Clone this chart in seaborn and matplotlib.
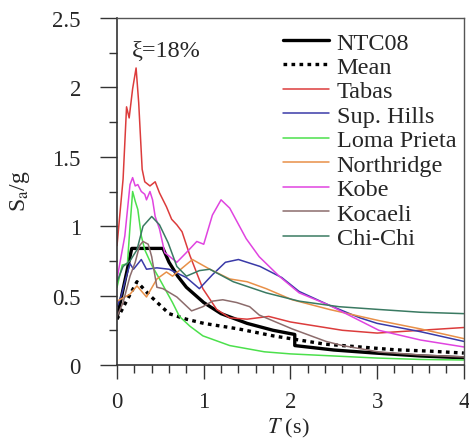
import matplotlib
matplotlib.use("Agg")
import matplotlib.pyplot as plt
import seaborn as sns
import numpy as np
from matplotlib.ticker import MultipleLocator

# ---- data ----
ntc_T = [0, 0.17, 0.53, 0.6, 0.7, 0.8, 1.0, 1.2, 1.5, 1.8, 2.05, 2.05, 2.5, 3.0, 3.5, 4.0]
ntc_S = [0.34, 0.84, 0.84, 0.74, 0.64, 0.56, 0.45, 0.37, 0.30, 0.25, 0.22, 0.14, 0.108, 0.085, 0.065, 0.052]

mean_T = [0, 0.1, 0.23, 0.38, 0.6, 0.8, 1.0, 1.4, 1.8, 2.0, 2.4, 2.8, 3.2, 3.6, 4.0]
mean_S = [0.33, 0.45, 0.60, 0.50, 0.37, 0.33, 0.30, 0.26, 0.21, 0.19, 0.15, 0.13, 0.11, 0.10, 0.086]

tabas_T = [0, 0.07, 0.11, 0.14, 0.18, 0.22, 0.25, 0.29, 0.32, 0.38, 0.44, 0.49, 0.57, 0.63, 0.69, 0.75,
           0.84, 0.99, 1.15, 1.3, 1.5, 1.75, 2.0, 2.3, 2.6, 3.0, 3.5, 4.0]
tabas_S = [0.86, 1.34, 1.86, 1.78, 1.99, 2.14, 1.89, 1.41, 1.32, 1.29, 1.32, 1.24, 1.14, 1.05, 1.01, 0.96,
           0.79, 0.55, 0.40, 0.34, 0.33, 0.35, 0.31, 0.28, 0.25, 0.23, 0.25, 0.27]

hills_T = [0, 0.05, 0.1, 0.15, 0.19, 0.28, 0.34, 0.46, 0.6, 0.8, 0.95, 1.1, 1.25, 1.4, 1.65, 1.9, 2.1,
           2.45, 2.8, 3.0, 3.5, 4.0]
hills_S = [0.42, 0.50, 0.62, 0.73, 0.69, 0.76, 0.69, 0.70, 0.69, 0.63, 0.55, 0.65, 0.74, 0.76, 0.71, 0.63,
           0.53, 0.43, 0.34, 0.30, 0.24, 0.17]

loma_T = [0, 0.06, 0.12, 0.15, 0.18, 0.21, 0.24, 0.28, 0.32, 0.4, 0.49, 0.64, 0.72, 0.84, 0.99, 1.3,
          1.7, 2.0, 2.5, 3.0, 3.5, 4.0]
loma_S = [0.56, 0.72, 0.73, 1.0, 1.25, 1.18, 1.12, 0.93, 0.83, 0.72, 0.62, 0.45, 0.35, 0.28, 0.21, 0.14,
          0.095, 0.08, 0.065, 0.05, 0.04, 0.036]

north_T = [0, 0.15, 0.23, 0.34, 0.46, 0.57, 0.64, 0.87, 1.07, 1.3, 1.5, 1.72, 2.02, 2.45, 3.02, 3.5, 4.0]
north_S = [0.46, 0.51, 0.57, 0.49, 0.62, 0.67, 0.64, 0.76, 0.69, 0.62, 0.60, 0.55, 0.47, 0.40, 0.32, 0.26, 0.19]

kobe_T = [0, 0.09, 0.15, 0.18, 0.21, 0.24, 0.28, 0.32, 0.34, 0.38, 0.41, 0.44, 0.49, 0.55, 0.69, 0.8,
          0.92, 1.0, 1.1, 1.2, 1.3, 1.49, 1.64, 1.87, 2.1, 2.45, 3.02, 3.5, 4.0]
kobe_S = [0.62, 0.93, 1.30, 1.35, 1.29, 1.30, 1.25, 1.23, 1.19, 1.25, 1.19, 1.07, 0.98, 0.81, 0.74, 0.81,
          0.89, 0.87, 1.08, 1.19, 1.13, 0.91, 0.78, 0.64, 0.52, 0.43, 0.25, 0.18, 0.13]

koca_T = [0, 0.07, 0.15, 0.21, 0.26, 0.3, 0.36, 0.4, 0.46, 0.53, 0.69, 0.86, 0.99, 1.1, 1.22, 1.38,
          1.53, 1.64, 2.02, 2.41, 2.6, 3.02, 3.5, 4.0]
koca_S = [0.35, 0.45, 0.64, 0.74, 0.86, 0.89, 0.87, 0.78, 0.56, 0.55, 0.49, 0.39, 0.42, 0.46, 0.47, 0.45,
          0.42, 0.36, 0.26, 0.17, 0.14, 0.094, 0.072, 0.058]

chi_T = [0, 0.07, 0.15, 0.23, 0.3, 0.4, 0.49, 0.59, 0.69, 0.8, 0.95, 1.07, 1.22, 1.34, 1.72, 2.1,
         2.56, 3.02, 3.5, 4.0]
chi_S = [0.60, 0.71, 0.75, 0.83, 1.0, 1.07, 1.01, 0.88, 0.71, 0.64, 0.68, 0.69, 0.64, 0.60, 0.52, 0.46,
         0.42, 0.40, 0.38, 0.37]

records = [
    ("Tabas", tabas_T, tabas_S, "#dc3c3c"),
    ("Sup. Hills", hills_T, hills_S, "#3a3aa8"),
    ("Loma Prieta", loma_T, loma_S, "#4ce04c"),
    ("Northridge", north_T, north_S, "#e89048"),
    ("Kobe", kobe_T, kobe_S, "#e044e0"),
    ("Kocaeli", koca_T, koca_S, "#8c6c6c"),
    ("Chi-Chi", chi_T, chi_S, "#3a7a62"),
]

sns.set_style("ticks")
plt.rcParams["font.family"] = ["Liberation Serif", "DejaVu Serif"]
plt.rcParams["mathtext.fontset"] = "stix"

fig = plt.figure(figsize=(4.69, 4.39), dpi=100)
ax = fig.add_axes([0.2495, 0.1663, 0.7395, 0.7904])

sns.lineplot(x=ntc_T, y=ntc_S, ax=ax, color="black", lw=2.4, label="NTC08",
             estimator=None, sort=False)
sns.lineplot(x=mean_T, y=mean_S, ax=ax, color="black", lw=2.4, label="Mean",
             estimator=None, sort=False, linestyle=(0, (1.1, 1.3)))
for name, T, S, c in records:
    sns.lineplot(x=T, y=S, ax=ax, color=c, lw=1.1, label=name, estimator=None, sort=False)

ax.set_xlim(0, 4)
ax.set_ylim(0, 2.5)
ax.xaxis.set_major_locator(MultipleLocator(1))
ax.xaxis.set_minor_locator(MultipleLocator(0.2))
ax.yaxis.set_major_locator(MultipleLocator(0.5))
ax.yaxis.set_minor_locator(MultipleLocator(0.25))
ax.xaxis.set_major_formatter(plt.FuncFormatter(lambda v, p: f"{v:g}"))
ax.yaxis.set_major_formatter(plt.FuncFormatter(lambda v, p: f"{v:g}"))
ax.tick_params(axis="y", which="major", direction="out", length=12, width=1.0,
               labelsize=16.5, color="#333333", pad=14)
ax.tick_params(axis="x", which="major", direction="out", length=10, width=1.0,
               labelsize=16.5, color="#333333", pad=9)
ax.tick_params(axis="both", which="minor", direction="out", length=6, width=1.0, color="#333333")
ax.tick_params(top=False, right=False)
for s in ["top", "right"]:
    ax.spines[s].set_color("#555555")
    ax.spines[s].set_linewidth(1.0)
for s in ["left", "bottom"]:
    ax.spines[s].set_color("#333333")
    ax.spines[s].set_linewidth(1.2)

ax.set_xlabel(r"$T$ (s)", fontsize=16)
ax.set_ylabel(r"S$_{\mathrm{a}}$/g", fontsize=17)
ax.xaxis.set_label_coords(0.493, -0.148)
ax.yaxis.set_label_coords(-0.245, 0.505)
ax.text(0.17, 2.27, "ξ=18%", fontsize=17.5, ha="left", va="center")

leg = ax.legend(loc="upper right", frameon=False, fontsize=17.5, handlelength=1.9,
                labelspacing=0.1, handletextpad=0.3, borderaxespad=0.0, borderpad=0.1,
                bbox_to_anchor=(0.985, 0.968))

fig.savefig("out.png", dpi=100)
